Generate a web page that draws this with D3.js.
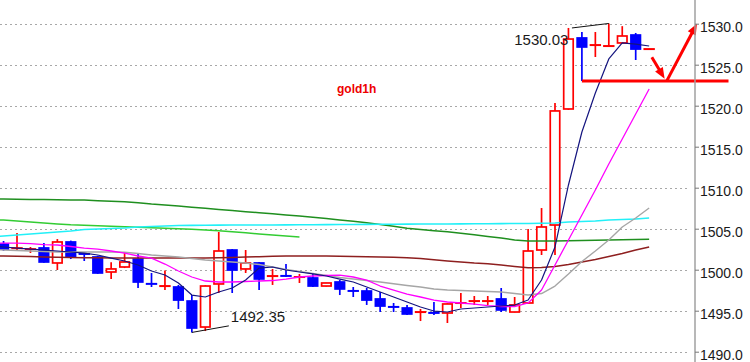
<!DOCTYPE html>
<html><head><meta charset="utf-8">
<script src="https://cdn.jsdelivr.net/npm/d3@7"></script>
<style>html,body{margin:0;padding:0;background:#fff;overflow:hidden}</style>
</head><body><svg id="c" width="750" height="362"></svg>
<script>
// ---------- DATA ----------
const chartTitle = "gold1h";
const yTicks = [1490, 1495, 1500, 1505, 1510, 1515, 1520, 1525, 1530];
// candle bar numbers (hourly bars, -1 is partly hidden at left edge)
const barIndex = d3.range(-1, 48);
const open  = [1503.13,1502.60,1502.50,1502.65,1500.82,1503.38,1501.93,1501.55,1499.72,1500.33,
               1501.30,1498.28,1498.00,1497.89,1496.18,1493.01,1498.26,1502.40,1500.09,1500.82,
               1499.22,1499.25,1499.10,1498.99,1498.01,1498.50,1497.42,1497.40,1496.43,1495.47,
               1495.33,1494.83,1494.74,1494.72,1495.93,1496.17,1496.17,1496.43,1494.84,1495.94,
               1502.40,1505.45,1519.60,1528.26,1527.39,1527.27,1527.65,1528.62,1526.90];
const high  = [1503.50,1504.48,1502.77,1503.26,1503.74,1503.55,1502.04,1501.70,1500.90,1502.10,
               1502.04,1499.60,1499.90,1498.14,1496.90,1498.10,1504.60,1502.52,1502.40,1500.94,
               1500.09,1500.70,1499.48,1499.60,1498.40,1498.74,1497.89,1497.77,1497.28,1495.94,
               1495.70,1495.21,1496.06,1495.90,1497.16,1496.79,1496.79,1497.77,1496.67,1504.96,
               1507.52,1520.33,1529.48,1528.99,1528.99,1530.03,1529.70,1528.87,1526.95];
const low   = [1502.30,1502.40,1502.04,1500.85,1499.96,1501.30,1501.06,1499.50,1498.87,1500.20,
               1497.77,1497.89,1497.52,1495.21,1492.35,1492.52,1497.16,1497.16,1499.60,1497.52,
               1498.14,1499.11,1498.38,1497.90,1497.95,1496.91,1496.67,1495.70,1494.84,1494.84,
               1494.48,1493.74,1494.48,1493.50,1495.33,1495.70,1495.70,1494.84,1494.80,1495.90,
               1501.79,1501.80,1519.50,1523.00,1525.94,1527.20,1527.60,1525.57,1526.88];
const close = [1502.52,1502.65,1502.52,1500.94,1503.38,1501.55,1501.91,1499.60,1500.09,1500.94,
               1498.50,1498.26,1498.01,1496.30,1492.89,1498.01,1502.28,1499.96,1500.82,1498.87,
               1499.23,1499.23,1499.11,1498.01,1498.38,1497.65,1497.40,1496.30,1495.57,1495.45,
               1494.60,1494.84,1494.72,1495.82,1495.94,1496.18,1496.18,1495.09,1495.70,1502.28,
               1505.21,1519.36,1528.13,1527.16,1527.40,1527.28,1528.50,1526.91,1526.91];
// moving-average lines, bar numbers -2 .. 47
const lineIndex = d3.range(-2, 48);
const maNavy = [1502.89,1502.77,1502.64,1502.52,1502.40,1502.28,1502.16,1502.03,1501.79,1501.42,
                1501.06,1500.57,1499.84,1499.35,1498.38,1496.91,1496.67,1497.28,1497.77,1498.74,
                1500.20,1500.33,1499.96,1499.72,1499.48,1499.23,1498.86,1498.50,1497.89,1497.28,
                1496.67,1496.06,1495.45,1494.96,1494.84,1495.21,1495.33,1495.45,1495.57,1495.69,
                1496.30,1498.74,1502.77,1510.33,1516.79,1521.55,1525.70,1527.65,1527.52,1527.28];
const maMagenta = [1503.25,1503.25,1503.25,1503.19,1503.07,1503.01,1502.83,1502.64,1502.52,1502.28,
                1502.03,1501.67,1501.42,1500.69,1499.84,1499.11,1498.62,1498.50,1498.50,1498.56,
                1498.62,1498.68,1498.86,1499.11,1499.23,1499.29,1499.35,1499.11,1498.74,1498.01,
                1497.52,1497.03,1496.67,1496.30,1496.06,1495.94,1495.81,1495.63,1495.51,1495.51,
                1495.94,1497.52,1500.57,1503.62,1506.67,1509.72,1512.89,1515.94,1518.99,1522.04];
const maGray = [1502.46,1502.40,1502.34,1502.28,1502.22,1502.16,1502.16,1502.16,1502.16,1502.16,
                1502.12,1501.97,1501.79,1501.67,1501.55,1501.36,1501.18,1501.06,1500.94,1500.81,
                1500.63,1500.33,1500.02,1499.78,1499.54,1499.29,1499.05,1498.86,1498.68,1498.50,
                1498.28,1498.07,1497.89,1497.64,1497.52,1497.46,1497.40,1497.34,1497.28,1497.09,
                1496.91,1497.09,1498.01,1499.47,1501.00,1502.28,1503.62,1505.21,1506.30,1507.52];
const maMaroon = [1501.73,1501.67,1501.63,1501.60,1501.55,1501.52,1501.50,1501.47,1501.45,1501.42,
                1501.42,1501.42,1501.42,1501.42,1501.42,1501.42,1501.42,1501.45,1501.49,1501.55,
                1501.58,1501.63,1501.67,1501.67,1501.67,1501.67,1501.64,1501.61,1501.57,1501.55,
                1501.51,1501.47,1501.36,1501.20,1501.06,1500.94,1500.81,1500.72,1500.57,1500.39,
                1500.23,1500.27,1500.39,1500.63,1500.94,1501.24,1501.61,1501.97,1502.40,1502.77];
const maGreen = [1508.62,1508.62,1508.60,1508.57,1508.55,1508.53,1508.51,1508.49,1508.41,1508.35,
                1508.28,1508.17,1508.01,1507.89,1507.77,1507.62,1507.49,1507.34,1507.22,1507.07,
                1506.95,1506.82,1506.68,1506.55,1506.39,1506.23,1506.06,1505.90,1505.72,1505.51,
                1505.29,1505.06,1504.89,1504.75,1504.62,1504.44,1504.25,1504.06,1503.86,1503.62,
                1503.50,1503.50,1503.50,1503.52,1503.56,1503.60,1503.62,1503.64,1503.68,1503.72];
const maLime = [1506.12,1506.06,1505.94,1505.81,1505.69,1505.57,1505.47,1505.41,1505.35,1505.29,
                1505.23,1505.18,1505.12,1505.06,1504.99,1504.92,1504.84,1504.74,1504.63,1504.50,
                1504.35,1504.23,1504.11,1503.99];
const maCyan = [1503.99,1504.11,1504.23,1504.35,1504.47,1504.60,1504.72,1504.90,1504.96,1505.02,
                1505.08,1505.21,1505.27,1505.33,1505.39,1505.41,1505.42,1505.44,1505.45,1505.45,
                1505.45,1505.46,1505.47,1505.48,1505.49,1505.50,1505.51,1505.52,1505.53,1505.54,
                1505.55,1505.56,1505.57,1505.57,1505.58,1505.59,1505.60,1505.61,1505.62,1505.63,
                1505.63,1505.66,1505.69,1505.81,1505.88,1505.94,1506.06,1506.12,1506.18,1506.30];
// annotations
const hiLabel = {bar: 44, price: 1530.03, text: "1530.03"};
const loLabel = {bar: 13, price: 1492.35, text: "1492.35"};
const supportLevel = 1523.0;

// ---------- DRAW ----------
const RED = "#ff0000", BLUE = "#0000ff";
const svg = d3.select("#c");
const x = d3.scaleLinear().domain([0, 47]).range([17, 649.15]);
const y = d3.scaleLinear().domain([1490, 1530]).range([351.7, 23.7]);

svg.append("defs").append("clipPath").attr("id","plotclip")
  .append("rect").attr("x",0).attr("y",0).attr("width",692).attr("height",362);

// grid
svg.append("g").selectAll("line").data(yTicks).join("line")
  .attr("x1",0).attr("x2",690).attr("y1",d=>Math.round(y(d))+0.5).attr("y2",d=>Math.round(y(d))+0.5)
  .attr("stroke","#a8a8a8").attr("stroke-width",1).attr("stroke-dasharray","2,3");

const plot = svg.append("g").attr("clip-path","url(#plotclip)");

// candles
const bars = barIndex.map((i,k)=>({i, o:open[k], h:high[k], l:low[k], c:close[k]}));
const BW = 9.5;
const cg = plot.append("g");
bars.forEach(d=>{
  const up = d.c >= d.o;
  const col = up ? RED : BLUE;
  const cx = x(d.i);
  cg.append("line").attr("x1",cx).attr("x2",cx).attr("y1",y(d.h)).attr("y2",y(d.l))
    .attr("stroke",col).attr("stroke-width",1.7);
  const yt = y(Math.max(d.o,d.c)), yb = y(Math.min(d.o,d.c));
  if (yb - yt < 1.5) {
    const ym = (yt+yb)/2;
    cg.append("line").attr("x1",cx-5.7).attr("x2",cx+5.7).attr("y1",ym).attr("y2",ym)
      .attr("stroke",col).attr("stroke-width",2);
  } else {
    cg.append("rect").attr("x",cx-BW/2).attr("y",yt).attr("width",BW).attr("height",yb-yt)
      .attr("fill", up ? "#ffffff" : BLUE).attr("stroke",col).attr("stroke-width",1.7);
  }
});

// lines
function drawLine(vals, color, w){
  const line = d3.line().x((d,k)=>x(lineIndex[k])).y(d=>y(d));
  plot.append("path").attr("d", line(vals)).attr("fill","none")
    .attr("stroke",color).attr("stroke-width",w).attr("stroke-linejoin","round");
}
drawLine(maGreen, "#1f8f1f", 1.5);
drawLine(maLime, "#33cc33", 1.5);
drawLine(maCyan, "#22f0f8", 1.6);
drawLine(maMaroon, "#8e1f1f", 1.5);
drawLine(maGray, "#a6a6a6", 1.4);
drawLine(maMagenta, "#ff00ff", 1.3);
drawLine(maNavy, "#14147f", 1.2);

// title text
svg.append("text").attr("x",337).attr("y",93).text(chartTitle)
  .attr("font-family","Liberation Sans, Arial, sans-serif").attr("font-weight","bold")
  .attr("font-size",12).attr("fill","#ee0000");

// high / low labels
const lblFont = "Liberation Sans, Arial, sans-serif";
svg.append("line").attr("x1",x(hiLabel.bar-3)+3.5).attr("y1",y(hiLabel.price-0.55))
  .attr("x2",x(hiLabel.bar)).attr("y2",y(hiLabel.price)).attr("stroke","#111").attr("stroke-width",1);
svg.append("text").attr("x",x(hiLabel.bar-3)).attr("y",y(hiLabel.price-2.65)).attr("text-anchor","end")
  .text(hiLabel.text).attr("font-family",lblFont).attr("font-size",15).attr("fill","#1a1a1a");
svg.append("line").attr("x1",x(loLabel.bar)).attr("y1",y(loLabel.price))
  .attr("x2",x(loLabel.bar+2.75)).attr("y2",y(loLabel.price+0.8)).attr("stroke","#111").attr("stroke-width",1);
svg.append("text").attr("x",x(loLabel.bar+2.9)).attr("y",y(loLabel.price+1.25))
  .text(loLabel.text).attr("font-family",lblFont).attr("font-size",15).attr("fill","#1a1a1a");

// red annotation: support line + arrows
const ann = svg.append("g");
ann.append("line").attr("x1",x(42)).attr("x2",x(52.9)).attr("y1",y(supportLevel)).attr("y2",y(supportLevel))
  .attr("stroke",RED).attr("stroke-width",3);
function arrow(b0,p0,b1,p1){
  const ax=x(b0), ay=y(p0), bx=x(b1), by=y(p1);
  const dx=bx-ax, dy=by-ay, len=Math.hypot(dx,dy), ux=dx/len, uy=dy/len, nx=-uy, ny=ux;
  const L=11, Wd=4.5;
  ann.append("line").attr("x1",ax).attr("y1",ay).attr("x2",bx-ux*L*0.7).attr("y2",by-uy*L*0.7)
    .attr("stroke",RED).attr("stroke-width",3);
  ann.append("polygon").attr("points",[[bx,by],[bx-ux*L+nx*Wd,by-uy*L+ny*Wd],[bx-ux*L-nx*Wd,by-uy*L-ny*Wd]].map(p=>p.join(",")).join(" "))
    .attr("fill",RED);
}
arrow(47.2, 1525.9, 48.15, 1523.3);
arrow(48.3, 1523.0, 50.55, 1530.0);

// right axis
const ax = svg.append("g").attr("transform","translate(695,0)");
ax.append("line").attr("x1",0).attr("x2",0).attr("y1",0).attr("y2",362).attr("stroke","#a0a0a0").attr("stroke-width",1.5);
const axis = d3.axisRight(y).tickValues(yTicks).tickFormat(d3.format(".1f")).tickSize(4).tickSizeOuter(0);
const ag = ax.append("g").call(axis);
ag.select(".domain").remove();
ag.selectAll(".tick line").attr("stroke","#777");
ag.selectAll(".tick text").attr("x",5).attr("dy","0.58em")
  .attr("font-family","Liberation Sans, Arial, sans-serif").attr("font-size",14).attr("fill","#1a1a1a");
</script>
</body></html>
